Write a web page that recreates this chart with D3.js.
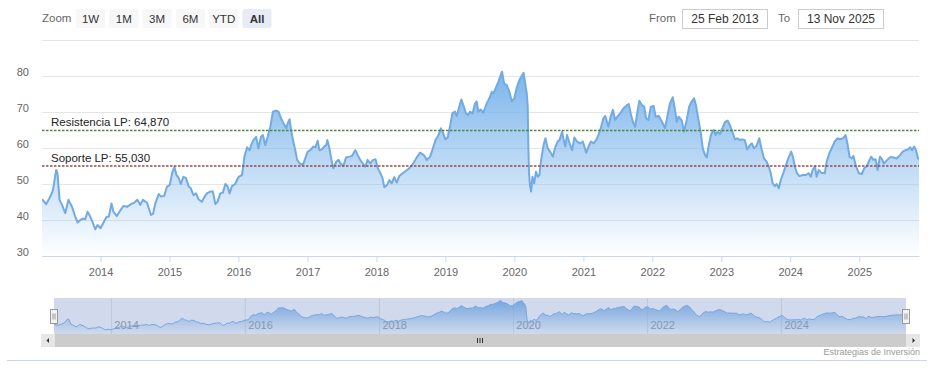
<!DOCTYPE html>
<html>
<head>
<meta charset="utf-8">
<script src="https://cdn.jsdelivr.net/npm/d3@7"></script>
<style>
  body { margin: 0; background: #fff; }
  svg { display: block; font-family: "Lucida Grande", "Lucida Sans Unicode", "Liberation Sans", Arial, sans-serif; }
</style>
</head>
<body>
<svg id="chart" width="937" height="384"></svg>
<script>
const dates = [
  '2013-02-25','2013-03-19','2013-04-10','2013-04-24','2013-05-11','2013-05-18','2013-05-29','2013-06-11','2013-06-28','2013-07-15',
  '2013-08-03','2013-08-20','2013-09-02','2013-09-16','2013-09-30','2013-10-12','2013-10-24','2013-11-08','2013-11-22','2013-12-04',
  '2013-12-16','2014-01-01','2014-01-15','2014-02-02','2014-02-14','2014-02-28','2014-03-10','2014-03-28','2014-04-15','2014-05-02',
  '2014-05-23','2014-06-11','2014-06-28','2014-07-15','2014-07-30','2014-08-14','2014-09-04','2014-09-25','2014-10-06','2014-10-18',
  '2014-11-05','2014-11-18','2014-12-04','2014-12-19','2015-01-02','2015-01-15','2015-01-27','2015-02-07','2015-02-18','2015-03-02',
  '2015-03-16','2015-03-30','2015-04-12','2015-04-24','2015-05-08','2015-05-22','2015-06-04','2015-06-22','2015-07-04','2015-07-18',
  '2015-08-05','2015-08-19','2015-09-01','2015-09-13','2015-09-27','2015-10-11','2015-10-24','2015-11-05','2015-11-15','2015-11-28',
  '2015-12-15','2016-01-02','2016-01-20','2016-02-02','2016-02-16','2016-02-29','2016-03-12','2016-03-20','2016-04-04','2016-04-16',
  '2016-04-29','2016-05-10','2016-05-22','2016-06-04','2016-06-18','2016-07-02','2016-07-19','2016-08-01','2016-08-14','2016-08-27',
  '2016-09-11','2016-09-18','2016-09-28','2016-10-06','2016-10-16','2016-10-28','2016-11-07','2016-11-21','2016-12-08','2016-12-20',
  '2017-01-02','2017-01-16','2017-01-31','2017-02-12','2017-02-24','2017-03-05','2017-03-18','2017-03-30','2017-04-10','2017-04-16',
  '2017-04-27','2017-05-08','2017-05-18','2017-06-02','2017-06-14','2017-06-26','2017-07-10','2017-07-24','2017-08-12','2017-08-24',
  '2017-09-11','2017-09-23','2017-10-07','2017-10-21','2017-11-03','2017-11-15','2017-11-29','2017-12-14','2017-12-27','2018-01-08',
  '2018-01-22','2018-02-02','2018-02-12','2018-02-26','2018-03-10','2018-03-23','2018-04-05','2018-04-19','2018-05-02','2018-05-20',
  '2018-06-07','2018-06-25','2018-07-15','2018-08-03','2018-08-20','2018-09-08','2018-09-25','2018-10-12','2018-10-27','2018-11-10',
  '2018-11-26','2018-12-08','2018-12-19','2019-01-01','2019-01-13','2019-01-27','2019-02-07','2019-02-21','2019-03-02','2019-03-16',
  '2019-03-26','2019-04-06','2019-04-20','2019-05-02','2019-05-11','2019-05-25','2019-06-07','2019-06-16','2019-06-25','2019-07-07',
  '2019-07-21','2019-08-08','2019-08-22','2019-09-04','2019-09-13','2019-09-27','2019-10-09','2019-10-18','2019-10-28','2019-11-08',
  '2019-11-22','2019-12-06','2019-12-19','2020-01-01','2020-01-15','2020-01-28','2020-02-12','2020-02-19','2020-02-28','2020-03-07',
  '2020-03-12','2020-03-15','2020-03-19','2020-03-24','2020-03-30','2020-04-06','2020-04-15','2020-04-25','2020-05-04','2020-05-13',
  '2020-05-22','2020-06-04','2020-06-14','2020-06-26','2020-07-09','2020-07-23','2020-08-05','2020-08-17','2020-08-27','2020-09-10',
  '2020-09-18','2020-09-27','2020-10-06','2020-10-20','2020-11-02','2020-11-14','2020-11-28','2020-12-15','2020-12-29','2021-01-16',
  '2021-01-28','2021-02-10','2021-02-24','2021-03-09','2021-03-21','2021-04-03','2021-04-16','2021-04-27','2021-05-13','2021-05-25',
  '2021-06-06','2021-06-18','2021-06-30','2021-07-14','2021-08-01','2021-08-19','2021-08-29','2021-09-10','2021-09-20','2021-10-02',
  '2021-10-14','2021-10-24','2021-11-07','2021-11-19','2021-11-29','2021-12-11','2021-12-24','2022-01-08','2022-01-18','2022-02-04',
  '2022-02-21','2022-03-09','2022-03-21','2022-04-04','2022-04-19','2022-05-01','2022-05-10','2022-05-20','2022-06-06','2022-06-18',
  '2022-07-02','2022-07-15','2022-07-28','2022-08-10','2022-08-20','2022-09-02','2022-09-15','2022-09-25','2022-10-07','2022-10-16',
  '2022-10-27','2022-11-07','2022-11-21','2022-12-03','2022-12-11','2022-12-26','2023-01-10','2023-01-22','2023-02-04','2023-02-18',
  '2023-03-01','2023-03-14','2023-03-26','2023-04-10','2023-04-24','2023-05-06','2023-05-18','2023-06-02','2023-06-12','2023-06-23',
  '2023-07-07','2023-07-21','2023-08-03','2023-08-15','2023-08-29','2023-09-10','2023-09-20','2023-09-30','2023-10-11','2023-10-21',
  '2023-11-02','2023-11-12','2023-11-26','2023-12-10','2023-12-22','2024-01-06','2024-01-15','2024-01-26','2024-02-06','2024-02-19',
  '2024-03-07','2024-03-24','2024-04-08','2024-04-19','2024-04-29','2024-05-11','2024-05-20','2024-05-31','2024-06-14','2024-07-02',
  '2024-07-12','2024-07-26','2024-08-10','2024-08-24','2024-09-08','2024-09-22','2024-10-06','2024-10-20','2024-10-30','2024-11-10',
  '2024-11-22','2024-12-01','2024-12-15','2024-12-29','2025-01-15','2025-01-27','2025-02-10','2025-02-24','2025-03-05','2025-03-16',
  '2025-03-28','2025-04-08','2025-04-20','2025-05-01','2025-05-11','2025-05-25','2025-06-12','2025-06-30','2025-07-18','2025-08-05',
  '2025-08-19','2025-09-02','2025-09-16','2025-09-27','2025-10-07','2025-10-18','2025-10-28','2025-11-08','2025-11-13'
];

const prices = [
  45.8, 44.4, 46.5, 48.3, 53.9, 53.0, 45.6, 44.2, 41.9, 45.6,
  43.7, 40.9, 39.3, 40.0, 40.4, 40.2, 42.3, 40.9, 39.1, 37.4,
  38.6, 37.7, 39.1, 40.9, 40.9, 44.6, 42.3, 41.1, 42.6, 43.9,
  43.7, 44.4, 44.8, 45.6, 44.2, 45.6, 44.8, 41.4, 41.7, 44.6,
  47.2, 46.5, 46.7, 49.3, 49.7, 53.0, 54.8, 52.5, 51.8, 50.0,
  52.0, 51.6, 49.4, 48.8, 46.9, 47.4, 45.7, 45.1, 46.3, 47.4,
  47.9, 47.9, 44.4, 45.1, 47.4, 47.6, 50.0, 49.3, 47.4, 49.4,
  50.0, 52.0, 52.5, 57.6, 60.2, 59.4, 61.3, 62.2, 63.1, 59.9,
  63.1, 63.6, 60.8, 63.1, 65.9, 70.1, 70.4, 70.1, 68.2, 66.9,
  65.5, 66.9, 68.0, 65.0, 62.2, 59.4, 56.7, 55.7, 55.3, 57.1,
  59.0, 59.4, 60.4, 60.2, 62.0, 59.4, 59.6, 60.4, 60.8, 62.2,
  59.9, 56.7, 54.4, 56.2, 56.7, 55.7, 55.0, 57.4, 57.6, 57.8,
  59.4, 58.1, 56.7, 55.7, 54.8, 56.7, 55.7, 56.7, 56.9, 54.4,
  53.0, 51.6, 49.1, 49.7, 51.1, 50.2, 51.9, 50.4, 52.2, 53.0,
  53.7, 54.4, 55.7, 57.4, 58.7, 58.1, 56.7, 57.6, 59.9, 62.2,
  63.6, 65.5, 64.3, 62.4, 62.9, 66.4, 69.6, 70.1, 68.9, 71.5,
  73.5, 71.9, 69.6, 69.2, 70.1, 69.6, 72.4, 72.9, 70.1, 70.7,
  69.8, 72.4, 73.8, 75.6, 75.2, 77.0, 78.4, 79.8, 81.2, 77.9,
  77.5, 75.6, 72.9, 73.8, 77.0, 78.9, 80.3, 80.9, 77.9, 75.2,
  71.5, 61.3, 53.0, 49.7, 47.9, 52.0, 50.2, 53.4, 52.0, 52.5,
  56.7, 60.8, 62.7, 59.9, 59.0, 57.6, 60.2, 61.8, 62.2, 64.5,
  62.4, 60.4, 63.6, 61.3, 59.4, 62.9, 61.8, 61.3, 61.8, 58.7,
  60.4, 61.8, 61.3, 62.2, 63.6, 65.5, 68.2, 68.9, 65.9, 68.7,
  70.6, 67.8, 68.7, 69.6, 71.0, 71.9, 72.2, 69.2, 67.3, 65.9,
  70.1, 73.1, 71.9, 71.5, 68.2, 67.8, 71.5, 71.7, 68.7, 68.9,
  67.3, 65.5, 68.7, 72.4, 74.1, 70.6, 67.3, 68.7, 67.6, 64.5,
  67.8, 71.5, 72.9, 73.8, 71.9, 67.8, 64.1, 59.9, 58.1, 57.4,
  60.8, 63.6, 65.0, 63.6, 64.5, 63.9, 65.9, 67.3, 67.6, 66.1,
  64.5, 62.4, 62.7, 62.2, 62.4, 62.2, 59.6, 60.8, 61.3, 59.9,
  60.6, 62.7, 59.6, 57.1, 56.2, 54.8, 53.0, 50.2, 49.4, 50.0,
  48.8, 51.1, 53.1, 55.3, 57.1, 59.0, 57.6, 54.8, 53.0, 52.2,
  52.5, 52.5, 53.0, 52.0, 53.9, 55.0, 52.0, 53.9, 53.1, 53.0,
  56.2, 58.5, 60.2, 61.8, 62.7, 62.4, 62.7, 63.6, 61.3, 57.6,
  57.1, 57.8, 54.8, 53.0, 52.8, 54.4, 55.0, 56.7, 57.6, 56.7,
  56.9, 53.9, 57.6, 56.9, 55.7, 56.5, 57.4, 57.4, 57.1, 58.1,
  59.0, 59.4, 59.6, 60.2, 59.4, 60.4, 59.4, 57.1, 56.9
];

const yTicks = [30, 40, 50, 60, 70, 80, 90];
const yLabels = [30, 40, 50, 60, 70, 80];
const levelValues = [64.87, 55.03];
const levelLabels = ['Resistencia LP: 64,870', 'Soporte LP: 55,030'];
const zoomButtons = ['1W', '1M', '3M', '6M', 'YTD', 'All'];
const rangeFrom = '2013-02-25', rangeTo = '2025-11-13';
const credits = 'Estrategias de Inversión';

const parse = d3.timeParse('%Y-%m-%d');
const fmtBox = d3.timeFormat('%-d %b %Y');
const data = dates.map((d, i) => ({ date: parse(d), value: prices[i] }));

function translate(x, y) {
    return `translate(${x}, ${y})`;
}

const svg = d3.select('#chart');
const plot = { left: 42, right: 919, top: 40, bottom: 256 };
const nav = { left: 54, right: 906, top: 298, bottom: 334 };

const x = d3.scaleTime().domain([parse(rangeFrom), parse(rangeTo)]).range([plot.left, plot.right]);
const y = d3.scaleLinear().domain([30, 90]).range([plot.bottom, plot.top]);

const defs = svg.append('defs');
function gradient(id) {
    const g = defs.append('linearGradient').attr('id', id)
        .attr('x1', 0).attr('y1', 0).attr('x2', 0).attr('y2', 1);
    g.append('stop').attr('offset', 0).attr('stop-color', '#7cb5ec').attr('stop-opacity', 1);
    g.append('stop').attr('offset', 1).attr('stop-color', '#7cb5ec').attr('stop-opacity', 0);
}
gradient('main-fill');
gradient('nav-fill');
defs.append('clipPath').attr('id', 'plot-clip')
    .append('rect').attr('x', plot.left).attr('y', plot.top)
    .attr('width', plot.right - plot.left).attr('height', plot.bottom - plot.top);

// range selector
const selector = svg.append('g').style('font-size', '11.5px');
selector.append('text').attr('x', 42).attr('y', 22).style('fill', '#666').text('Zoom');
const btn = selector.selectAll('g.btn').data(zoomButtons).enter().append('g')
    .attr('class', 'btn')
    .attr('transform', (d, i) => translate(76 + i * 33.3, 9));
btn.append('rect').attr('width', 29).attr('height', 19).attr('rx', 2)
    .style('fill', d => d === 'All' ? '#e6ebf5' : '#f7f7f7');
btn.append('text').attr('x', 14.5).attr('y', 13.5).style('text-anchor', 'middle')
    .style('fill', '#333').style('font-weight', d => d === 'All' ? 'bold' : 'normal')
    .text(d => d);

const boxes = [['From', 649, 682, rangeFrom], ['To', 778, 798, rangeTo]];
boxes.forEach(([lab, lx, bx, val]) => {
    selector.append('text').attr('x', lx).attr('y', 22).style('fill', '#666').text(lab);
    selector.append('rect').attr('x', bx + 0.5).attr('y', 9.5).attr('width', 85).attr('height', 19)
        .style('fill', '#fff').style('stroke', '#cccccc');
    selector.append('text').attr('x', bx + 43).attr('y', 23).style('text-anchor', 'middle')
        .style('fill', '#333').style('font-size', '12px').text(fmtBox(parse(val)));
});

// grid
svg.append('g').attr('class', 'grid')
    .attr('transform', translate(plot.left, 0))
    .call(d3.axisRight(y).tickValues(yTicks).tickSize(plot.right - plot.left).tickFormat(''))
    .call(g => g.select('.domain').remove())
    .call(g => g.selectAll('line').style('stroke', '#e6e6e6'));

svg.append('g')
    .attr('transform', translate(29, 0))
    .call(d3.axisLeft(y).tickValues(yLabels).tickSize(0).tickPadding(0))
    .call(g => g.select('.domain').remove())
    .call(g => g.selectAll('text').attr('dy', '-0.05em')
        .style('fill', '#666').style('font-size', '11px').style('font-family', null));

// area + line
const area = d3.area().x(d => x(d.date)).y0(plot.bottom).y1(d => y(d.value));
const line = d3.line().x(d => x(d.date)).y(d => y(d.value));
const view = svg.append('g').attr('clip-path', 'url(#plot-clip)');
view.append('path').datum(data).attr('d', area).style('fill', 'url(#main-fill)');
view.append('path').datum(data).attr('d', line)
    .style('fill', 'none').style('stroke', '#72aae2').style('stroke-width', 2)
    .style('stroke-linejoin', 'round');

// x axis
svg.append('g')
    .attr('transform', translate(0, plot.bottom))
    .call(d3.axisBottom(x).ticks(d3.timeYear.every(1)).tickFormat(d3.timeFormat('%Y'))
        .tickSize(6).tickSizeOuter(0).tickPadding(6))
    .call(g => g.select('.domain').style('stroke', '#ccd6eb'))
    .call(g => g.selectAll('line').style('stroke', '#ccd6eb'))
    .call(g => g.selectAll('text').style('fill', '#666').style('font-size', '11px').style('font-family', null));

// support / resistance levels
const levelColors = ['#4a8a3a', '#9a4a4a'];
const levels = svg.append('g');
levels.selectAll('line').data(levelValues).enter().append('line')
    .attr('x1', plot.left).attr('x2', plot.right)
    .attr('y1', d => y(d)).attr('y2', d => y(d))
    .style('stroke', (d, i) => levelColors[i]).style('stroke-width', 1.5)
    .style('stroke-dasharray', '2.5,1.5');
levels.selectAll('text').data(levelValues).enter().append('text')
    .attr('x', 51).attr('y', d => y(d) - 4)
    .style('fill', '#222').style('font-size', '11.5px')
    .text((d, i) => levelLabels[i]);

// navigator
const x2 = d3.scaleTime().domain(x.domain()).range([nav.left, nav.right]);
const y2 = d3.scaleLinear().domain(d3.extent(prices)).range([330, 300.5]);
const navG = svg.append('g');
navG.append('g')
    .attr('transform', translate(0, nav.top))
    .call(d3.axisBottom(x2).ticks(d3.timeYear.every(2)).tickFormat(d3.timeFormat('%Y'))
        .tickSize(nav.bottom - nav.top).tickSizeOuter(0).tickPadding(0))
    .call(g => g.select('.domain').remove())
    .call(g => g.selectAll('line').style('stroke', '#e6e6e6'))
    .call(g => g.selectAll('text').attr('y', 31).attr('dy', 0).attr('x', 3)
        .style('text-anchor', 'start').style('fill', '#999').style('font-size', '11px').style('font-family', null));
navG.append('path').datum(data)
    .attr('d', d3.area().x(d => x2(d.date)).y0(nav.bottom).y1(d => y2(d.value)))
    .style('fill', 'url(#nav-fill)');
navG.append('path').datum(data)
    .attr('d', d3.line().x(d => x2(d.date)).y(d => y2(d.value)))
    .style('fill', 'none').style('stroke', '#7cb5ec').style('stroke-width', 1);
navG.append('rect').attr('x', nav.left).attr('y', nav.top)
    .attr('width', nav.right - nav.left).attr('height', nav.bottom - nav.top)
    .style('fill', 'rgba(102,133,194,0.3)');

[nav.left, nav.right].forEach(hx => {
    const h = navG.append('g').attr('transform', translate(Math.round(hx) - 3.5, 309.5));
    h.append('rect').attr('width', 7).attr('height', 14)
        .style('fill', '#f2f2f2').style('stroke', '#999');
    [2.5, 4.5].forEach(lx => h.append('line').attr('x1', lx).attr('x2', lx).attr('y1', 4).attr('y2', 10)
        .style('stroke', '#999'));
});

// scrollbar
const sb = svg.append('g').attr('transform', translate(0, 334));
sb.append('rect').attr('x', 41).attr('width', 879).attr('height', 13).style('fill', '#f2f2f2');
sb.append('rect').attr('x', nav.left + 1).attr('width', nav.right - nav.left - 1).attr('height', 13).style('fill', '#cccccc');
sb.append('rect').attr('x', 41).attr('width', 14).attr('height', 13).style('fill', '#e6e6e6');
sb.append('rect').attr('x', 906).attr('width', 14).attr('height', 13).style('fill', '#e6e6e6');
sb.append('path').attr('d', 'M46.5,6.5 L49,4 L49,9 Z').style('fill', '#333');
sb.append('path').attr('d', 'M915,6.5 L912.5,4 L912.5,9 Z').style('fill', '#333');
const gx = (nav.left + nav.right) / 2;
[-2.5, 0, 2.5].forEach(o => sb.append('line')
    .attr('x1', gx + o).attr('x2', gx + o).attr('y1', 4).attr('y2', 9)
    .style('stroke', '#333'));

// footer
svg.append('line').attr('x1', 7).attr('x2', 927).attr('y1', 360.5).attr('y2', 360.5)
    .style('stroke', '#ccd6eb');
svg.append('text').attr('x', 920).attr('y', 355).style('text-anchor', 'end')
    .style('fill', '#999').style('font-size', '9px').text(credits);
</script>
</body>
</html>
